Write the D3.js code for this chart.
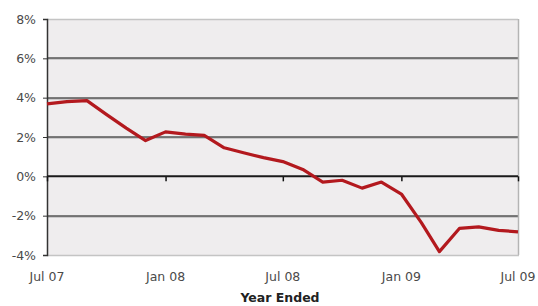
<!DOCTYPE html>
<html>
<head>
    <meta charset="utf-8">
    <script src="https://d3js.org/d3.v7.min.js"></script>
    <style>
        body { margin: 0; background: #ffffff; }
        .font { font-family: "DejaVu Sans", Verdana, sans-serif; }
        .tick-label { font-size: 12.5px; fill: #4a4a4a; }
        .axis-title { font-size: 12.5px; font-weight: bold; fill: #222222; }
    </style>
</head>
<body>
<script>
    // monthly points, Jul 07 .. Jul 09
    const MONTHS = d3.range(0, 25).map(function(i) { return new Date(2007, 6 + i, 1); });
    const VALUES = [3.68, 3.8, 3.85, 3.15, 2.45, 1.82, 2.26, 2.15, 2.08, 1.45, 1.2, 0.95, 0.75,
                    0.35, -0.29, -0.2, -0.6, -0.29, -0.9, -2.35, -3.83, -2.65, -2.57, -2.75, -2.82];
    const Y_TICKS = [-4, -2, 0, 2, 4, 6, 8];
    const X_TICKS = [new Date(2007, 6, 1), new Date(2008, 0, 1), new Date(2008, 6, 1),
                     new Date(2009, 0, 1), new Date(2009, 6, 1)];
    const X_TICK_LABELS = ["Jul 07", "Jan 08", "Jul 08", "Jan 09", "Jul 09"];
    const AXIS_TITLE = "Year Ended";

    const SVG_WIDTH = 538;
    const SVG_HEIGHT = 306;
    const PLOT_LEFT = 47;
    const PLOT_RIGHT = 518;
    const PLOT_TOP = 19;
    const PLOT_BOTTOM = 255;

    var svg = d3.select("body").append("svg")
        .attr("width", SVG_WIDTH)
        .attr("height", SVG_HEIGHT);

    var xScale = d3.scaleTime()
        .domain([MONTHS[0], MONTHS[MONTHS.length - 1]])
        .range([PLOT_LEFT, PLOT_RIGHT]);
    var yScale = d3.scaleLinear()
        .domain([-4, 8])
        .range([PLOT_BOTTOM, PLOT_TOP]);

    // plot background
    svg.append("rect")
        .attr("x", PLOT_LEFT)
        .attr("y", PLOT_TOP)
        .attr("width", PLOT_RIGHT - PLOT_LEFT)
        .attr("height", PLOT_BOTTOM - PLOT_TOP)
        .attr("fill", "#efedee");

    // gridlines
    var grid = svg.append("g");
    Y_TICKS.forEach(function(v) {
        if (v === 0 || v === -4) return;
        var y = Math.round(yScale(v));
        if (v === 8) {
            grid.append("line")
                .attr("x1", PLOT_LEFT).attr("x2", PLOT_RIGHT)
                .attr("y1", y + 0.5).attr("y2", y + 0.5)
                .attr("stroke", "#c4c4c4").attr("stroke-width", 1.5);
            return;
        }
        grid.append("line")
            .attr("x1", PLOT_LEFT).attr("x2", PLOT_RIGHT)
            .attr("y1", y + 1).attr("y2", y + 1)
            .attr("stroke", "#a8a8a8").attr("stroke-width", 1);
        grid.append("line")
            .attr("x1", PLOT_LEFT).attr("x2", PLOT_RIGHT)
            .attr("y1", y).attr("y2", y)
            .attr("stroke", "#555555").attr("stroke-width", 1.4);
    });

    // right and bottom borders
    svg.append("line")
        .attr("x1", PLOT_RIGHT + 0.5).attr("x2", PLOT_RIGHT + 0.5)
        .attr("y1", PLOT_TOP).attr("y2", PLOT_BOTTOM)
        .attr("stroke", "#b4b4b4").attr("stroke-width", 1.5);
    svg.append("line")
        .attr("x1", PLOT_LEFT).attr("x2", PLOT_RIGHT + 1)
        .attr("y1", PLOT_BOTTOM + 0.5).attr("y2", PLOT_BOTTOM + 0.5)
        .attr("stroke", "#c4c4c4").attr("stroke-width", 1.5);

    // y axis
    var yAxis = d3.axisLeft(yScale)
        .tickValues(Y_TICKS)
        .tickSize(4)
        .tickPadding(7)
        .tickFormat(function(d) { return d + "%"; });
    var yAxisG = svg.append("g")
        .attr("transform", "translate(" + PLOT_LEFT + ",0)")
        .call(yAxis);
    yAxisG.select(".domain").attr("stroke", "#333333").attr("stroke-width", 1.5);
    yAxisG.selectAll(".tick line").attr("stroke", "#333333");
    yAxisG.selectAll(".tick text")
        .attr("class", "font tick-label")
        .attr("fill", null);

    // zero line with x ticks
    var zeroY = yScale(0);
    var xAxis = d3.axisBottom(xScale)
        .tickValues(X_TICKS)
        .tickSize(5)
        .tickFormat("");
    var xAxisG = svg.append("g")
        .attr("transform", "translate(0," + zeroY + ")")
        .call(xAxis);
    xAxisG.select(".domain").remove();
    xAxisG.selectAll(".tick line").attr("stroke", "#111111").attr("stroke-width", 1.5);
    svg.append("line")
        .attr("x1", PLOT_LEFT).attr("x2", PLOT_RIGHT)
        .attr("y1", zeroY).attr("y2", zeroY)
        .attr("stroke", "#1a1a1a").attr("stroke-width", 2);

    // x labels
    svg.append("g").selectAll("text")
        .data(X_TICKS)
        .enter()
        .append("text")
        .attr("class", "font tick-label")
        .attr("x", function(d) { return xScale(d); })
        .attr("y", 281)
        .attr("text-anchor", "middle")
        .text(function(d, i) { return X_TICK_LABELS[i]; });

    svg.append("text")
        .attr("class", "font axis-title")
        .attr("x", 280)
        .attr("y", 302)
        .attr("text-anchor", "middle")
        .text(AXIS_TITLE);

    // series line
    var line = d3.line()
        .x(function(d, i) { return xScale(MONTHS[i]); })
        .y(function(d) { return yScale(d); });
    svg.append("path")
        .datum(VALUES)
        .attr("d", line)
        .attr("fill", "none")
        .attr("stroke", "#b3191e")
        .attr("stroke-width", 3.2)
        .attr("stroke-linejoin", "round");
</script>
</body>
</html>
